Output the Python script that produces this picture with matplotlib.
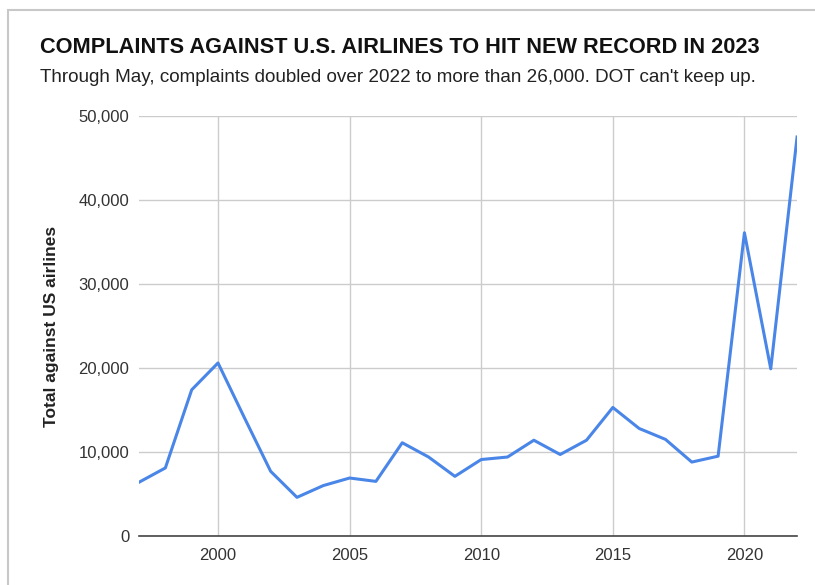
import matplotlib
matplotlib.use("Agg")
import matplotlib.pyplot as plt
from matplotlib.patches import Rectangle
from matplotlib.ticker import FuncFormatter

plt.rcParams['font.family'] = ['Liberation Sans', 'DejaVu Sans']

years = list(range(1997, 2023))
complaints = [6400, 8100, 17400, 20600, 14100, 7700, 4600, 6000, 6900, 6500,
              11100, 9400, 7100, 9100, 9400, 11400, 9700, 11400, 15300, 12800,
              11500, 8800, 9500, 36100, 19900, 47500]
xticks = [2000, 2005, 2010, 2015, 2020]
yticks = [0, 10000, 20000, 30000, 40000, 50000]

title = "COMPLAINTS AGAINST U.S. AIRLINES TO HIT NEW RECORD IN 2023"
subtitle = "Through May, complaints doubled over 2022 to more than 26,000. DOT can't keep up."
ylabel = "Total against US airlines"

fig = plt.figure(figsize=(8.15, 5.85), dpi=100)
ax = fig.add_axes([0.1706, 0.0838, 0.978 - 0.1706, 0.8017 - 0.0838])

# card border
fig.patches.append(Rectangle((0.01, -0.1), 1.2, 1.083, transform=fig.transFigure,
                             fill=False, edgecolor='#c8c8c8', linewidth=1.5))

ax.plot(years, complaints, color='#4a86e8', linewidth=2.2, solid_joinstyle='round')

ax.set_xlim(1997, 2022)
ax.set_ylim(0, 50000)
ax.set_xticks(xticks)
ax.set_yticks(yticks)
ax.yaxis.set_major_formatter(FuncFormatter(lambda v, p: "{:,}".format(int(v))))
ax.grid(True, color='#cccccc', linewidth=1)
ax.set_axisbelow(True)
for s in ['top', 'right', 'left']:
    ax.spines[s].set_visible(False)
ax.spines['bottom'].set_color('#444444')
ax.spines['bottom'].set_linewidth(1.2)
ax.tick_params(length=0, labelsize=12, colors='#333333', pad=7)
ax.tick_params(axis='x', pad=9)

ax.set_ylabel(ylabel, fontsize=12.5, fontweight='bold', color='#222222', labelpad=14)

fig.text(0.049, 0.918, title, fontsize=15.7, fontweight='bold', color='#111111', va='center')
fig.text(0.049, 0.868, subtitle, fontsize=13.6, color='#222222', va='center')

fig.savefig("out.png", dpi=100)
